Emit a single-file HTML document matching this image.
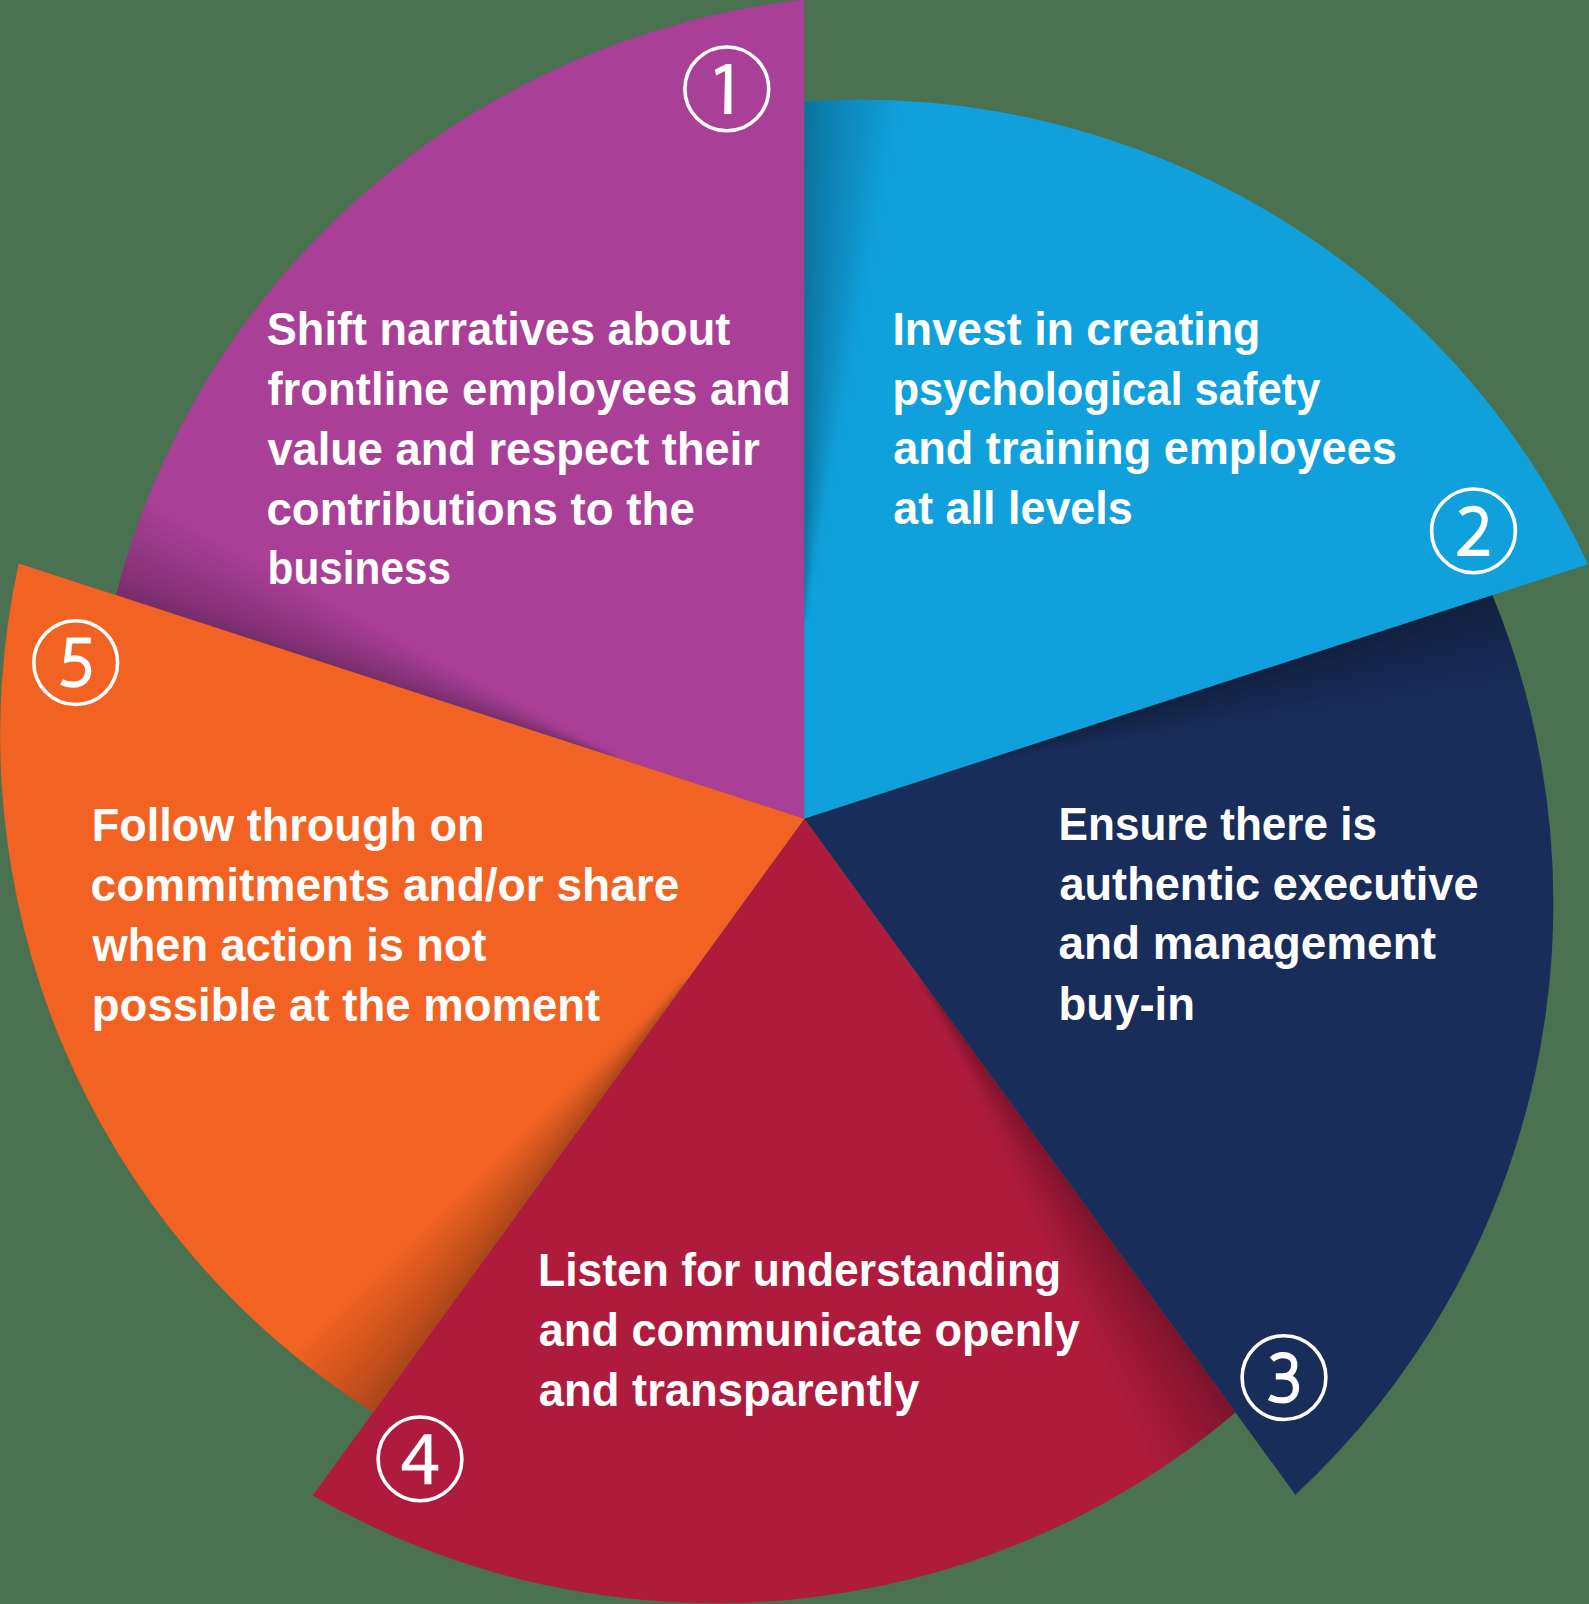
<!DOCTYPE html>
<html><head><meta charset="utf-8"><style>
html,body{margin:0;padding:0;background:#4a7150;}
body{width:1589px;height:1604px;overflow:hidden;}
svg{display:block;font-family:"Liberation Sans", sans-serif;}
</style></head><body>
<svg width="1589" height="1604" viewBox="0 0 1589 1604">
<defs>
<clipPath id="c_purple"><path d="M804.3 818.8 L115.9 595.1 A801.9 801.9 0 0 1 804.3 -0.1 Z"/></clipPath>
<clipPath id="c_blue"><path d="M804.3 818.8 L804.3 101.5 A803.5 803.5 0 0 1 1588.0 564.2 Z"/></clipPath>
<clipPath id="c_navy"><path d="M804.3 818.8 L1492.4 595.2 A807.3 807.3 0 0 1 1295.3 1494.7 Z"/></clipPath>
<clipPath id="c_red"><path d="M804.3 818.8 L1235.6 1412.5 A805.6 805.6 0 0 1 312.7 1495.5 Z"/></clipPath>
<clipPath id="c_orange"><path d="M804.3 818.8 L373.1 1412.3 A801.6 801.6 0 0 1 18.7 563.6 Z"/></clipPath>
<filter id="bl" x="-20%" y="-20%" width="140%" height="140%"><feGaussianBlur stdDeviation="3"/></filter>
</defs>
<rect width="1589" height="1604" fill="#4a7150"/>
<path d="M804.3 818.8 L115.9 595.1 A801.9 801.9 0 0 1 804.3 -0.1 Z" fill="#a93f96"/>
<g clip-path="url(#c_purple)"><g filter="url(#bl)" fill="#000" fill-opacity="0.031">
<path d="M611.0 766.5 L-64.3 547.1 L-60.2 534.7 L614.1 757.0 Z"/>
<path d="M611.0 766.5 L-64.3 547.1 L-58.5 529.4 L614.1 757.0 Z"/>
<path d="M611.0 766.5 L-64.3 547.1 L-56.3 522.5 L614.1 757.0 Z"/>
<path d="M611.0 766.5 L-64.3 547.1 L-53.6 514.4 L614.1 757.0 Z"/>
<path d="M611.0 766.5 L-64.3 547.1 L-50.6 505.2 L614.1 757.0 Z"/>
<path d="M611.0 766.5 L-64.3 547.1 L-47.3 495.0 L614.1 757.0 Z"/>
<path d="M611.0 766.5 L-64.3 547.1 L-43.7 483.9 L614.1 757.0 Z"/>
<path d="M611.0 766.5 L-64.3 547.1 L-39.8 472.0 L614.1 757.0 Z"/>
<path d="M611.0 766.5 L-64.3 547.1 L-35.7 459.3 L614.1 757.0 Z"/>
<path d="M611.0 766.5 L-64.3 547.1 L-31.4 445.9 L614.1 757.0 Z"/>
<path d="M611.0 766.5 L-64.3 547.1 L-26.8 431.8 L614.1 757.0 Z"/>
<path d="M611.0 766.5 L-64.3 547.1 L-22.0 417.0 L614.1 757.0 Z"/>
</g></g>
<path d="M804.3 818.8 L804.3 101.5 A803.5 803.5 0 0 1 1588.0 564.2 Z" fill="#10a0db"/>
<g clip-path="url(#c_blue)"><g filter="url(#bl)" fill="#000" fill-opacity="0.031">
<path d="M794.3 618.8 L794.3 -91.2 L807.3 -91.2 L804.3 618.8 Z"/>
<path d="M794.3 618.8 L794.3 -91.2 L812.9 -91.2 L804.3 618.8 Z"/>
<path d="M794.3 618.8 L794.3 -91.2 L820.1 -91.2 L804.3 618.8 Z"/>
<path d="M794.3 618.8 L794.3 -91.2 L828.7 -91.2 L804.3 618.8 Z"/>
<path d="M794.3 618.8 L794.3 -91.2 L838.4 -91.2 L804.3 618.8 Z"/>
<path d="M794.3 618.8 L794.3 -91.2 L849.1 -91.2 L804.3 618.8 Z"/>
<path d="M794.3 618.8 L794.3 -91.2 L860.8 -91.2 L804.3 618.8 Z"/>
<path d="M794.3 618.8 L794.3 -91.2 L873.3 -91.2 L804.3 618.8 Z"/>
<path d="M794.3 618.8 L794.3 -91.2 L886.6 -91.2 L804.3 618.8 Z"/>
<path d="M794.3 618.8 L794.3 -91.2 L900.7 -91.2 L804.3 618.8 Z"/>
<path d="M794.3 618.8 L794.3 -91.2 L915.6 -91.2 L804.3 618.8 Z"/>
<path d="M794.3 618.8 L794.3 -91.2 L931.1 -91.2 L804.3 618.8 Z"/>
</g></g>
<path d="M804.3 818.8 L1492.4 595.2 A807.3 807.3 0 0 1 1295.3 1494.7 Z" fill="#192d5a"/>
<g clip-path="url(#c_navy)"><g filter="url(#bl)" fill="#000" fill-opacity="0.031">
<path d="M991.4 747.5 L1666.7 528.1 L1670.7 540.5 L994.5 757.0 Z"/>
<path d="M991.4 747.5 L1666.7 528.1 L1672.4 545.8 L994.5 757.0 Z"/>
<path d="M991.4 747.5 L1666.7 528.1 L1674.7 552.7 L994.5 757.0 Z"/>
<path d="M991.4 747.5 L1666.7 528.1 L1677.3 560.8 L994.5 757.0 Z"/>
<path d="M991.4 747.5 L1666.7 528.1 L1680.3 570.0 L994.5 757.0 Z"/>
<path d="M991.4 747.5 L1666.7 528.1 L1683.6 580.2 L994.5 757.0 Z"/>
<path d="M991.4 747.5 L1666.7 528.1 L1687.2 591.3 L994.5 757.0 Z"/>
<path d="M991.4 747.5 L1666.7 528.1 L1691.1 603.2 L994.5 757.0 Z"/>
<path d="M991.4 747.5 L1666.7 528.1 L1695.2 615.9 L994.5 757.0 Z"/>
<path d="M991.4 747.5 L1666.7 528.1 L1699.6 629.3 L994.5 757.0 Z"/>
<path d="M991.4 747.5 L1666.7 528.1 L1704.1 643.4 L994.5 757.0 Z"/>
<path d="M991.4 747.5 L1666.7 528.1 L1708.9 658.2 L994.5 757.0 Z"/>
</g></g>
<path d="M804.3 818.8 L1235.6 1412.5 A805.6 805.6 0 0 1 312.7 1495.5 Z" fill="#ae1b3d"/>
<g clip-path="url(#c_red)"><g filter="url(#bl)" fill="#000" fill-opacity="0.031">
<path d="M929.9 974.7 L1347.3 1549.1 L1336.7 1556.8 L921.9 980.6 Z"/>
<path d="M929.9 974.7 L1347.3 1549.1 L1332.2 1560.1 L921.9 980.6 Z"/>
<path d="M929.9 974.7 L1347.3 1549.1 L1326.4 1564.3 L921.9 980.6 Z"/>
<path d="M929.9 974.7 L1347.3 1549.1 L1319.4 1569.3 L921.9 980.6 Z"/>
<path d="M929.9 974.7 L1347.3 1549.1 L1311.6 1575.0 L921.9 980.6 Z"/>
<path d="M929.9 974.7 L1347.3 1549.1 L1302.9 1581.4 L921.9 980.6 Z"/>
<path d="M929.9 974.7 L1347.3 1549.1 L1293.5 1588.2 L921.9 980.6 Z"/>
<path d="M929.9 974.7 L1347.3 1549.1 L1283.4 1595.6 L921.9 980.6 Z"/>
<path d="M929.9 974.7 L1347.3 1549.1 L1272.6 1603.4 L921.9 980.6 Z"/>
<path d="M929.9 974.7 L1347.3 1549.1 L1261.2 1611.7 L921.9 980.6 Z"/>
<path d="M929.9 974.7 L1347.3 1549.1 L1249.2 1620.4 L921.9 980.6 Z"/>
<path d="M929.9 974.7 L1347.3 1549.1 L1236.6 1629.5 L921.9 980.6 Z"/>
</g></g>
<path d="M804.3 818.8 L373.1 1412.3 A801.6 801.6 0 0 1 18.7 563.6 Z" fill="#f16223"/>
<g clip-path="url(#c_orange)"><g filter="url(#bl)" fill="#000" fill-opacity="0.031">
<path d="M694.8 986.5 L277.5 1560.9 L266.9 1553.2 L686.7 980.6 Z"/>
<path d="M694.8 986.5 L277.5 1560.9 L262.4 1549.9 L686.7 980.6 Z"/>
<path d="M694.8 986.5 L277.5 1560.9 L256.6 1545.7 L686.7 980.6 Z"/>
<path d="M694.8 986.5 L277.5 1560.9 L249.7 1540.7 L686.7 980.6 Z"/>
<path d="M694.8 986.5 L277.5 1560.9 L241.8 1535.0 L686.7 980.6 Z"/>
<path d="M694.8 986.5 L277.5 1560.9 L233.2 1528.7 L686.7 980.6 Z"/>
<path d="M694.8 986.5 L277.5 1560.9 L223.7 1521.8 L686.7 980.6 Z"/>
<path d="M694.8 986.5 L277.5 1560.9 L213.6 1514.4 L686.7 980.6 Z"/>
<path d="M694.8 986.5 L277.5 1560.9 L202.8 1506.6 L686.7 980.6 Z"/>
<path d="M694.8 986.5 L277.5 1560.9 L191.4 1498.3 L686.7 980.6 Z"/>
<path d="M694.8 986.5 L277.5 1560.9 L179.4 1489.6 L686.7 980.6 Z"/>
<path d="M694.8 986.5 L277.5 1560.9 L166.8 1480.5 L686.7 980.6 Z"/>
</g></g>
<circle cx="726.8" cy="88.9" r="41.9" fill="none" stroke="#fff" stroke-width="3.6"/>
<path fill="#fff" d="M731.4 64 L731.4 113.9 L724.2 113.9 L725 71.1 L716.1 75.4 L714.8 69.8 L726.1 64 Z"/>
<circle cx="1473.5" cy="530.9" r="41.9" fill="none" stroke="#fff" stroke-width="3.6"/>
<clipPath id="cl2"><rect x="1457.3" y="500" width="40" height="62"/></clipPath><path clip-path="url(#cl2)" fill="none" stroke="#fff" stroke-width="6.2" stroke-linejoin="miter" d="M1460.6 513.6 C1464.2 510.6 1468.6 508.9 1473.4 508.9 C1480.6 508.9 1484.7 513.2 1484.7 520 C1484.7 527.2 1480.6 532.6 1474 539.2 L1460.8 552.8 L1489.2 552.8"/>
<circle cx="1284.0" cy="1377.6" r="41.9" fill="none" stroke="#fff" stroke-width="3.6"/>
<path fill="none" stroke="#fff" stroke-width="6.2" d="M1271.8 1359.6 C1275 1356.6 1278.8 1355.1 1283 1355.1 C1290 1355.1 1294.3 1358.8 1294.3 1364.8 C1294.3 1371.8 1289.6 1376.3 1282.5 1376.3 L1275.8 1376.3 M1282.5 1376.3 C1291 1376.3 1296 1380.6 1296 1387.8 C1296 1395.6 1290.6 1400.4 1282.6 1400.4 C1277.6 1400.4 1273.2 1399.2 1269.4 1397.2"/>
<circle cx="420.0" cy="1458.9" r="41.9" fill="none" stroke="#fff" stroke-width="3.6"/>
<path fill="#fff" fill-rule="evenodd" d="M424.1 1434.2 L431.4 1434.2 L431.4 1464.7 L438.3 1464.7 L438.3 1470.4 L431.4 1470.4 L431.4 1484.2 L424.4 1484.2 L424.4 1470.4 L401.8 1470.4 L401.8 1465 Z M424.8 1441.8 L424.8 1464.7 L408.8 1464.7 Z"/>
<circle cx="75.7" cy="662.6" r="41.9" fill="none" stroke="#fff" stroke-width="3.6"/>
<path fill="none" stroke="#fff" stroke-width="6.2" stroke-linejoin="miter" d="M90.8 640.5 L69.6 640.5 L67.4 659.2 C69.5 658.6 71.6 658.3 73.9 658.3 C83.2 658.3 88.2 663.4 88.2 670.8 C88.2 679 82.2 684.6 73.6 684.6 C69 684.6 64.8 683.6 61.6 682"/>
<text x="266.8" y="345.0" font-family="Liberation Sans" font-weight="bold" font-size="45.5" fill="#fff" textLength="463.4" lengthAdjust="spacingAndGlyphs">Shift narratives about</text>
<text x="267.4" y="405.1" font-family="Liberation Sans" font-weight="bold" font-size="45.5" fill="#fff" textLength="523.4" lengthAdjust="spacingAndGlyphs">frontline employees and</text>
<text x="267.4" y="464.7" font-family="Liberation Sans" font-weight="bold" font-size="45.5" fill="#fff" textLength="492.4" lengthAdjust="spacingAndGlyphs">value and respect their</text>
<text x="266.4" y="524.8" font-family="Liberation Sans" font-weight="bold" font-size="45.5" fill="#fff" textLength="428.4" lengthAdjust="spacingAndGlyphs">contributions to the</text>
<text x="267.6" y="584.2" font-family="Liberation Sans" font-weight="bold" font-size="45.5" fill="#fff" textLength="183.4" lengthAdjust="spacingAndGlyphs">business</text>
<text x="892.4" y="345.0" font-family="Liberation Sans" font-weight="bold" font-size="45.5" fill="#fff" textLength="368.0" lengthAdjust="spacingAndGlyphs">Invest in creating</text>
<text x="892.4" y="404.7" font-family="Liberation Sans" font-weight="bold" font-size="45.5" fill="#fff" textLength="428.0" lengthAdjust="spacingAndGlyphs">psychological safety</text>
<text x="893.2" y="464.4" font-family="Liberation Sans" font-weight="bold" font-size="45.5" fill="#fff" textLength="503.6" lengthAdjust="spacingAndGlyphs">and training employees</text>
<text x="893.2" y="524.2" font-family="Liberation Sans" font-weight="bold" font-size="45.5" fill="#fff" textLength="239.6" lengthAdjust="spacingAndGlyphs">at all levels</text>
<text x="1058.6" y="839.8" font-family="Liberation Sans" font-weight="bold" font-size="45.5" fill="#fff" textLength="318.4" lengthAdjust="spacingAndGlyphs">Ensure there is</text>
<text x="1059.4" y="899.5" font-family="Liberation Sans" font-weight="bold" font-size="45.5" fill="#fff" textLength="419.2" lengthAdjust="spacingAndGlyphs">authentic executive</text>
<text x="1058.4" y="959.2" font-family="Liberation Sans" font-weight="bold" font-size="45.5" fill="#fff" textLength="377.6" lengthAdjust="spacingAndGlyphs">and management</text>
<text x="1058.6" y="1019.6" font-family="Liberation Sans" font-weight="bold" font-size="45.5" fill="#fff" textLength="136.4" lengthAdjust="spacingAndGlyphs">buy-in</text>
<text x="538.0" y="1286.2" font-family="Liberation Sans" font-weight="bold" font-size="45.5" fill="#fff" textLength="523.2" lengthAdjust="spacingAndGlyphs">Listen for understanding</text>
<text x="538.8" y="1345.7" font-family="Liberation Sans" font-weight="bold" font-size="45.5" fill="#fff" textLength="541.0" lengthAdjust="spacingAndGlyphs">and communicate openly</text>
<text x="538.8" y="1405.6" font-family="Liberation Sans" font-weight="bold" font-size="45.5" fill="#fff" textLength="380.6" lengthAdjust="spacingAndGlyphs">and transparently</text>
<text x="91.8" y="841.1" font-family="Liberation Sans" font-weight="bold" font-size="45.5" fill="#fff" textLength="392.6" lengthAdjust="spacingAndGlyphs">Follow through on</text>
<text x="90.6" y="901.0" font-family="Liberation Sans" font-weight="bold" font-size="45.5" fill="#fff" textLength="588.8" lengthAdjust="spacingAndGlyphs">commitments and/or share</text>
<text x="92.6" y="960.9" font-family="Liberation Sans" font-weight="bold" font-size="45.5" fill="#fff" textLength="394.0" lengthAdjust="spacingAndGlyphs">when action is not</text>
<text x="91.8" y="1020.8" font-family="Liberation Sans" font-weight="bold" font-size="45.5" fill="#fff" textLength="508.4" lengthAdjust="spacingAndGlyphs">possible at the moment</text>
</svg>
</body></html>
